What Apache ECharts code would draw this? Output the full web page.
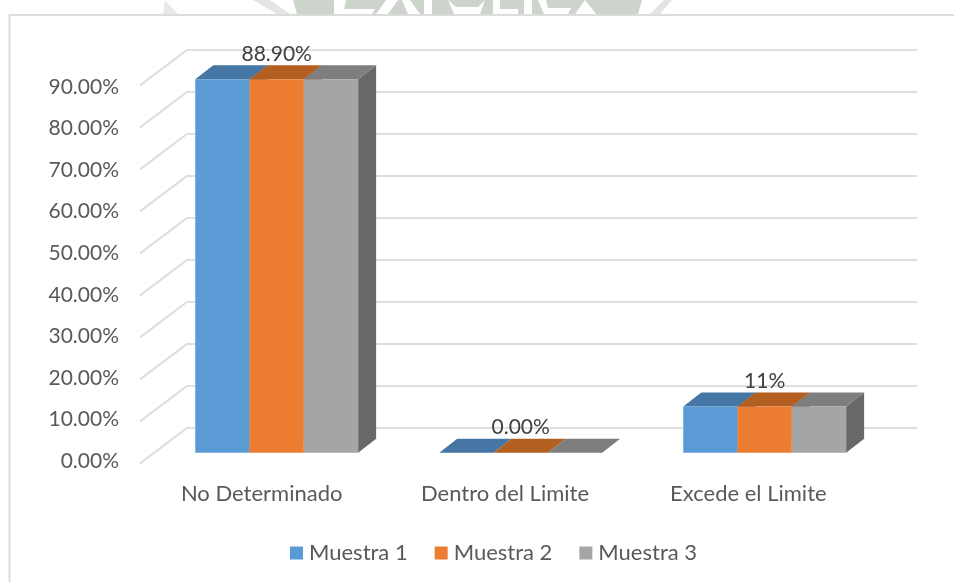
<!DOCTYPE html>
<html>
<head>
<meta charset="utf-8">
<style>
  html, body { margin: 0; padding: 0; background: #fff; }
  #chart { width: 954px; height: 582px; }
</style>
<script src="https://cdn.jsdelivr.net/npm/echarts@6/dist/echarts.min.js"></script>
</head>
<body>
<div id="chart"></div>
<script>
const categories = ['No Determinado', 'Dentro del Limite', 'Excede el Limite']
const muestra1 = [88.9, 0, 11]
const muestra2 = [88.9, 0, 11]
const muestra3 = [88.9, 0, 11]
const dataLabels = ['88.90%', '0.00%', '11%']
const gridValues = [0, 10, 20, 30, 40, 50, 60, 70, 80, 90]

const FONT = 'Lato'
const DEPTH_X = 18
const DEPTH_Y = 14

const chart = echarts.init(document.getElementById('chart'))

const barSeries = (name, values, color, topColor, sideColor, pos, withLabel) => ({
  name,
  type: 'custom',
  coordinateSystem: 'cartesian2d',
  itemStyle: { color },
  encode: { x: 0, y: 1 },
  data: values.map((v, i) => [i, v]),
  z: 3,
  renderItem: (params, api) => {
    const idx = api.value(0)
    const top = api.coord([idx, api.value(1)])
    const base = api.coord([idx, 0])
    const w = api.size([1, 0])[0] * 0.2225
    const x = top[0] + (pos - 1.5) * w
    const children = [
      {
        type: 'polygon',
        shape: { points: [[x + w, top[1]], [x + w + DEPTH_X, top[1] - DEPTH_Y], [x + w + DEPTH_X, base[1] - DEPTH_Y], [x + w, base[1]]] },
        style: { fill: sideColor }
      },
      {
        type: 'polygon',
        shape: { points: [[x, top[1]], [x + DEPTH_X, top[1] - DEPTH_Y], [x + w + DEPTH_X, top[1] - DEPTH_Y], [x + w, top[1]]] },
        style: { fill: topColor }
      },
      {
        type: 'rect',
        shape: { x, y: top[1], width: w, height: base[1] - top[1] },
        style: { fill: color }
      }
    ]
    if (withLabel) {
      children.push({
        type: 'text',
        z2: 10,
        style: {
          text: dataLabels[idx],
          x: x + w / 2,
          y: top[1] - 25,
          align: 'center',
          verticalAlign: 'middle',
          fill: '#404040',
          font: '21px ' + FONT
        }
      })
    }
    return { type: 'group', children }
  }
})

// bits of the page watermark that show above the chart
const wash = (points, fill) => ({ type: 'polygon', shape: { points }, style: { fill }, silent: true })
const watermark = [
  wash([[165, 0], [178, 14], [163, 14]], '#e6e9e5'),
  wash([[253, 0], [270, 0], [290, 14], [277, 14]], '#e2e5e1'),
  wash([[293, 0], [642, 0], [638, 14], [297, 14]], '#ccd4cb'),
  wash([[334, 0], [346, 0], [344, 9], [375, 9], [372, 14], [334, 14]], '#fff'),
  wash([[386, 0], [398, 0], [388, 14], [376, 14]], '#fff'),
  wash([[402, 0], [410, 0], [420, 14], [408, 14]], '#fff'),
  wash([[424, 0], [432, 0], [432, 14], [424, 14]], '#fff'),
  wash([[448, 0], [456, 7], [478, 7], [485, 0], [480, 14], [454, 14]], '#fff'),
  wash([[493, 0], [500, 0], [500, 9], [518, 9], [518, 14], [493, 14]], '#fff'),
  wash([[524, 0], [532, 0], [532, 14], [524, 14]], '#fff'),
  wash([[538, 0], [546, 0], [548, 8], [571, 8], [568, 14], [544, 14]], '#fff'),
  wash([[585, 0], [596, 14], [575, 14]], '#fff'),
  wash([[664, 0], [672, 0], [660, 14], [650, 14]], '#e2e5e1')
]

const axisLabelStyle = { color: '#595959', fontFamily: FONT }

const option = {
  animation: false,
  backgroundColor: '#fff',
  textStyle: { fontFamily: FONT },
  // grid 0 is the plane of the bar fronts, grid 1 the front edge of the floor where the labels sit
  grid: [
    { left: 154.7, width: 732, top: 74.7, height: 378 },
    { left: 140, width: 730, top: 87, height: 374 }
  ],
  legend: {
    left: 285,
    top: 537,
    itemWidth: 13,
    itemHeight: 13,
    itemGap: 27,
    icon: 'rect',
    textStyle: { color: '#595959', fontSize: 22, fontFamily: FONT, padding: [0, 0, 0, 1] },
    data: ['Muestra 1', 'Muestra 2', 'Muestra 3']
  },
  xAxis: [
    {
      type: 'category',
      data: categories,
      axisLine: { show: false },
      axisTick: { show: false },
      axisLabel: { show: false }
    },
    {
      type: 'category',
      gridIndex: 1,
      data: categories,
      axisLine: { show: false },
      axisTick: { show: false },
      axisLabel: { ...axisLabelStyle, fontSize: 22, margin: 22, interval: 0 }
    }
  ],
  yAxis: [
    {
      type: 'value',
      min: 0,
      max: 90,
      interval: 10,
      splitLine: { show: false },
      axisLine: { show: false },
      axisTick: { show: false },
      axisLabel: { show: false }
    },
    {
      type: 'value',
      gridIndex: 1,
      min: 0,
      max: 90,
      interval: 10,
      splitLine: { show: false },
      axisLine: { show: false },
      axisTick: { show: false },
      axisLabel: { ...axisLabelStyle, fontSize: 21, margin: 21, formatter: v => v.toFixed(2) + '%' }
    }
  ],
  graphic: [
    ...watermark,
    // chart area frame, only top and left are in the picture
    {
      type: 'polyline',
      shape: { points: [[9.5, 582], [9.5, 15], [954, 15]] },
      style: { stroke: '#dcdcdc', lineWidth: 2, fill: null },
      silent: true
    }
  ],
  series: [
    {
      type: 'custom',
      coordinateSystem: 'cartesian2d',
      encode: { y: 0 },
      data: gridValues.map(v => [v]),
      z: 1,
      silent: true,
      renderItem: (params, api) => {
        const y = api.coord([0, api.value(0)])[1]
        return {
          type: 'polyline',
          shape: { points: [[140, y + 10.7], [187, y - 24.7], [917, y - 24.7]] },
          style: { stroke: '#dedede', lineWidth: 2, fill: null }
        }
      }
    },
    barSeries('Muestra 1', muestra1, '#5b9bd5', '#4676a3', '#3f6b94', 0, false),
    barSeries('Muestra 2', muestra2, '#ed7d31', '#b45f22', '#a5561f', 1, true),
    barSeries('Muestra 3', muestra3, '#a5a5a5', '#7e7e7e', '#686868', 2, false)
  ]
}

chart.setOption(option)
</script>
</body>
</html>
